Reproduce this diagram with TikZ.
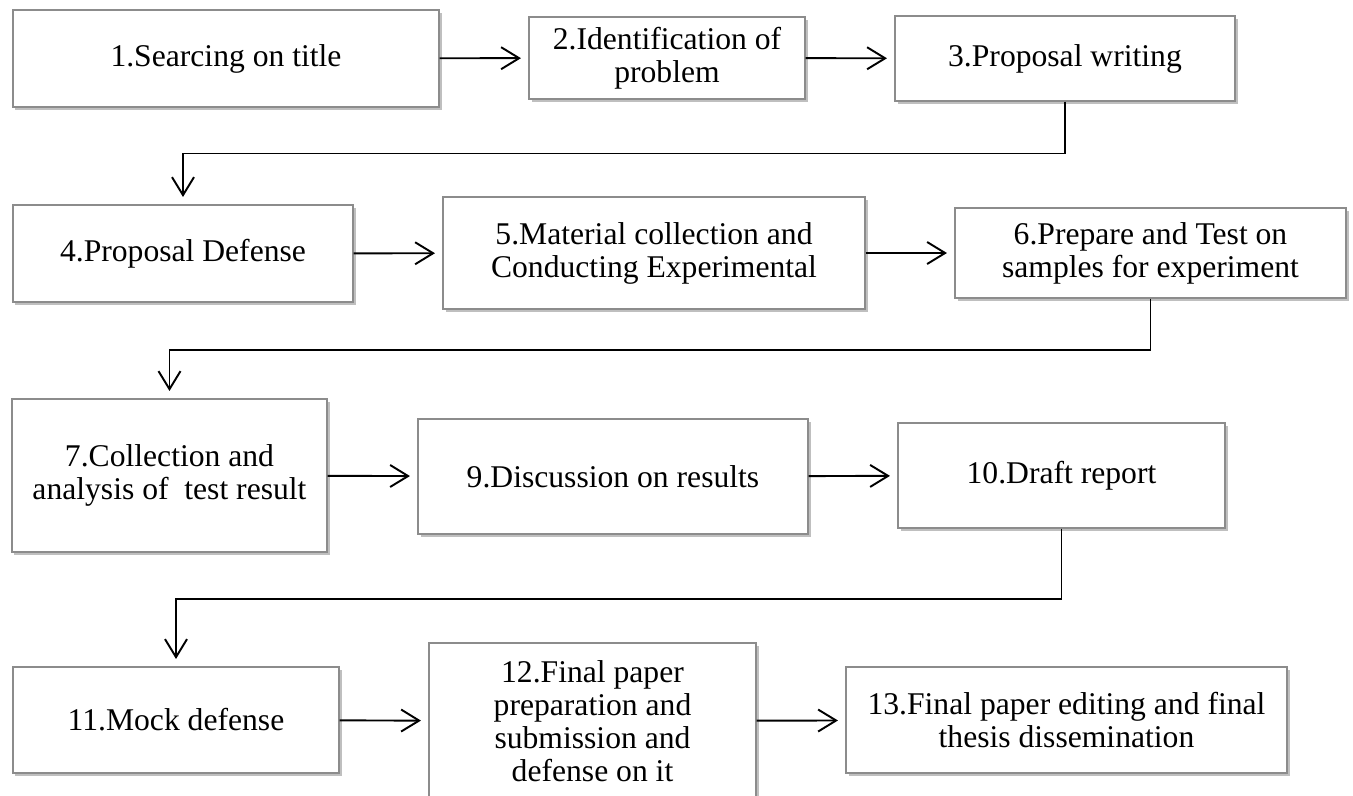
\documentclass[tikz,border=0pt]{standalone}
\usepackage{fontspec}
\setmainfont{Liberation Serif}
\usetikzlibrary{arrows.meta,shadows}

\tikzset{
    stage/.style={draw=black!45, line width=0.6pt, fill=white, align=center, inner sep=0pt,
        drop shadow={shadow xshift=0.05cm, shadow yshift=-0.06cm, opacity=0.25, fill=black}},
    boxsize/.style 2 args={minimum width=#1*0.02cm, minimum height=#2*0.02cm},
    flow/.style={line width=1.1pt, -{Straight Barb[length=3.6mm,width=4.4mm]}, shorten >=0.15cm}
}

\begin{document}
\begin{tikzpicture}[x=0.02cm, y=-0.02cm, font=\fontsize{18}{18.8}\selectfont]

    \useasboundingbox (0,0) rectangle (1353,795);
    \clip (0,0) rectangle (1353,795);

    %first row:
    \node[stage, boxsize={426}{97}] (search) at (226,58.5) {1.Searcing on title};
    \node[stage, boxsize={276}{82}] (ident) at (667,58) {2.Identification of\\problem};
    \node[stage, boxsize={340}{85}] (propwrite) at (1065,58.5) {3.Proposal writing};

    %second row:
    \node[stage, boxsize={340}{97}] (propdef) at (183,253.5) {4.Proposal Defense};
    \node[stage, boxsize={422}{112}] (material) at (654,253) {5.Material collection and\\Conducting Experimental};
    \node[stage, boxsize={391}{90}] (prepare) at (1150.5,253) {6.Prepare and Test on\\samples for experiment};

    %third row:
    \node[stage, boxsize={315}{153}] (collect) at (169.5,475.5) {7.Collection and\\analysis of~ test result};
    \node[stage, boxsize={390}{115}] (discuss) at (613,476.5) {9.Discussion on results};
    \node[stage, boxsize={327}{105}] (draft) at (1061.5,475.5) {10.Draft report};

    %fourth row:
    \node[stage, boxsize={326}{106}] (mock) at (176,720) {11.Mock defense};
    \node[stage, boxsize={327}{156}] (finalprep) at (592.5,721) {12.Final paper\\preparation and\\submission and\\defense on it};
    \node[stage, boxsize={441}{106}] (finaledit) at (1066.5,720) {13.Final paper editing and final\\thesis dissemination};

    %arrows along the rows:
    \draw[flow] (search) -- (ident);
    \draw[flow] (ident) -- (propwrite);
    \draw[flow] (propdef) -- (material);
    \draw[flow] (material) -- (prepare);
    \draw[flow] (collect) -- (discuss);
    \draw[flow] (discuss) -- (draft);
    \draw[flow] (mock) -- (finalprep);
    \draw[flow] (finalprep) -- (finaledit);

    %arrows down to the next row:
    \draw[flow] (propwrite.south) -- ++(0,52) -| (propdef.north);
    \draw[flow] (prepare.south) -- ++(0,51) -| (collect.north);
    \draw[flow] (draft.south) -- ++(0,70) -| (mock.north);

\end{tikzpicture}
\end{document}
